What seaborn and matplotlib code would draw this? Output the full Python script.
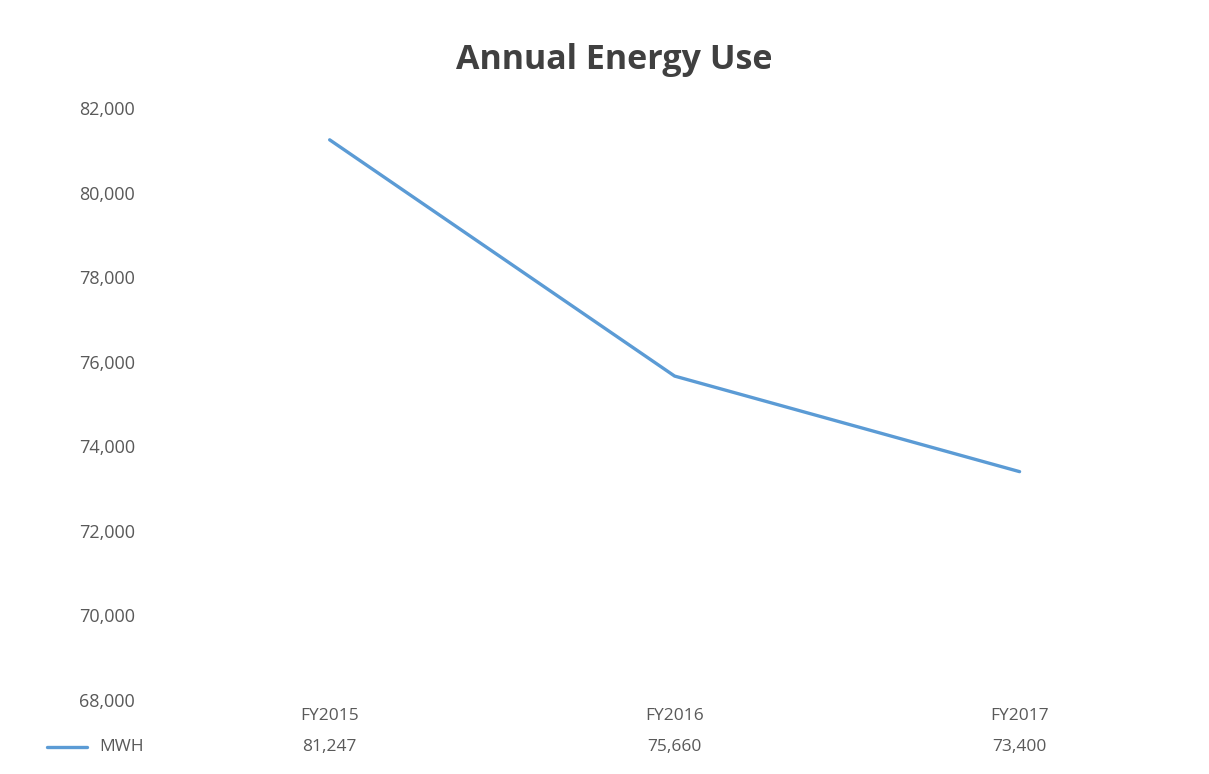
import matplotlib
matplotlib.use('Agg')
import matplotlib.pyplot as plt
import matplotlib.transforms as mtransforms
from matplotlib.ticker import FuncFormatter
import seaborn as sns
import pandas as pd

# chart data
years = ['FY2015', 'FY2016', 'FY2017']
mwh = [81247, 75660, 73400]
series_name = 'MWH'

df = pd.DataFrame({'year': years, 'mwh': mwh})
df['pos'] = range(len(df))

sns.set_style('white')
plt.rcParams['font.family'] = ['Open Sans', 'DejaVu Sans']

grey = '#595959'
blue = '#5B9BD5'

fig = plt.figure(figsize=(12.09, 7.74), dpi=100)
ax = fig.add_axes([0.130, 0.0956, 0.856, 0.7649])

sns.lineplot(data=df, x='pos', y='mwh', ax=ax, color=blue, linewidth=2.4)

ax.set_xlim(-0.5, len(years) - 0.5)
ax.set_ylim(68000, 82000)
ax.set_yticks(range(68000, 82001, 2000))
ax.yaxis.set_major_formatter(FuncFormatter(lambda v, p: f'{int(v):,}'))
ax.tick_params(axis='y', colors=grey, labelsize=13, length=0, pad=16)
ax.set_xticks([])
ax.set_xlabel('')
ax.set_ylabel('')
sns.despine(ax=ax, left=True, bottom=True)

# data table under the plot
trans = mtransforms.blended_transform_factory(ax.transData, ax.transAxes)
for i, (yr, v) in enumerate(zip(years, mwh)):
    ax.text(i, -0.027, yr, transform=trans, ha='center', va='center',
            fontsize=12.5, color=grey)
    ax.text(i, -0.079, f'{v:,}', transform=trans, ha='center', va='center',
            fontsize=12.5, color=grey)

# legend key in the table row
fig.lines.append(plt.Line2D([47 / 1209, 87 / 1209], [1 - 747 / 774] * 2,
                            transform=fig.transFigure, color=blue, linewidth=2.4))
fig.text(99 / 1209, 1 - 747 / 774, series_name, ha='left', va='center',
         fontsize=12.5, color=grey)

fig.text(0.508, 1 - 60 / 774, 'Annual Energy Use', ha='center', va='center',
         fontsize=24.5, fontweight='bold', color='#404040')

fig.savefig('out.png', dpi=100)
